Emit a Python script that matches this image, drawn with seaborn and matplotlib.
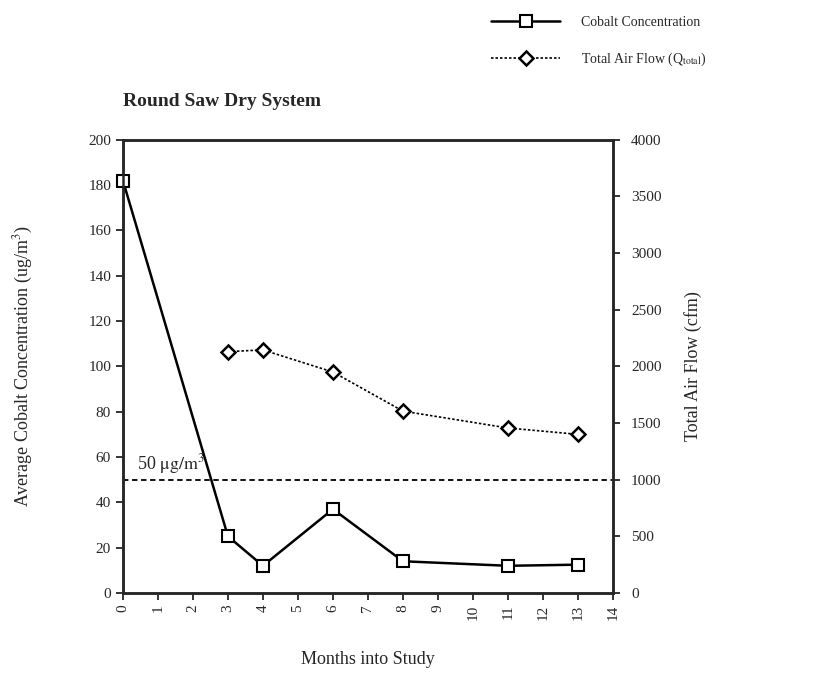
import pandas as pd
import numpy as np
import matplotlib
matplotlib.use("Agg")
import matplotlib.pyplot as plt
import seaborn as sns

# values
months_co = [0, 3, 4, 6, 8, 11, 13]
cobalt = [182, 25, 12, 37, 14, 12, 12.5]
months_air = [3, 4, 6, 8, 11, 13]
airflow = [2130, 2145, 1950, 1605, 1456, 1400]
limit = 50
xticks = list(range(0, 15))
left_ticks = list(range(0, 201, 20))
right_ticks = list(range(0, 4001, 500))

co = pd.DataFrame({"month": months_co, "cobalt": cobalt})
air = pd.DataFrame({"month": months_air, "flow": airflow})

sns.set_style("ticks")
plt.rcParams["font.family"] = ["Liberation Serif", "DejaVu Serif"]
plt.rcParams["mathtext.fontset"] = "stix"

fig = plt.figure(figsize=(8.25, 6.75), dpi=100)
ax = fig.add_axes([0.149, 0.1215, 0.594, 0.6715])
ax2 = ax.twinx()

sns.lineplot(data=co, x="month", y="cobalt", ax=ax, color="black", linewidth=1.8,
             marker="s", markersize=9, markerfacecolor="white", markeredgecolor="black",
             markeredgewidth=1.5, label="Cobalt Concentration", legend=False, zorder=3,
             clip_on=False)
sns.lineplot(data=air, x="month", y="flow", ax=ax2, color="black", linewidth=1.2,
             linestyle=(0, (1.5, 1.2)), marker="D", markersize=7, markerfacecolor="white",
             markeredgecolor="black", markeredgewidth=1.8,
             label="Total Air Flow (Q$_{\\mathrm{total}}$)", legend=False, zorder=3)

ax.axhline(limit, color="black", linestyle=(0, (3, 2)), linewidth=1.3)
ax.text(0.4, limit + 1.5, "50 $\\mathrm{\\mu g/m}^{3}$", fontsize=13, va="bottom")

ax.set_xlim(0, 14)
ax.set_ylim(0, 200)
ax2.set_ylim(0, 4000)
ax.set_xticks(xticks)
ax.set_xticklabels([str(t) for t in xticks], rotation=90, fontsize=11)
ax.set_yticks(left_ticks)
ax.tick_params(axis="y", labelsize=11, width=1.3, length=5)
ax.tick_params(axis="x", width=1.3, length=5)
ax2.set_yticks(right_ticks)
ax2.tick_params(axis="y", labelsize=11, width=1.3, length=5, pad=8)

for a in (ax, ax2):
    for s in a.spines.values():
        s.set_visible(True)
        s.set_linewidth(1.8)

ax.set_xlabel("Months into Study", fontsize=13, labelpad=22)
ax.set_ylabel("Average Cobalt Concentration (ug/m$^3$)", fontsize=13, labelpad=38)
ax2.set_ylabel("Total Air Flow (cfm)", fontsize=13, labelpad=16)
ax.set_title("Round Saw Dry System", fontsize=14, fontweight="bold", loc="left", pad=24)

h1, l1 = ax.get_legend_handles_labels()
h2, l2 = ax2.get_legend_handles_labels()
fig.legend(h1 + h2, l1 + l2, loc="upper left", bbox_to_anchor=(0.58, 0.995),
           frameon=False, fontsize=10, handlelength=5, labelspacing=1.6, handletextpad=1.5)

fig.savefig("out.png", dpi=100)
